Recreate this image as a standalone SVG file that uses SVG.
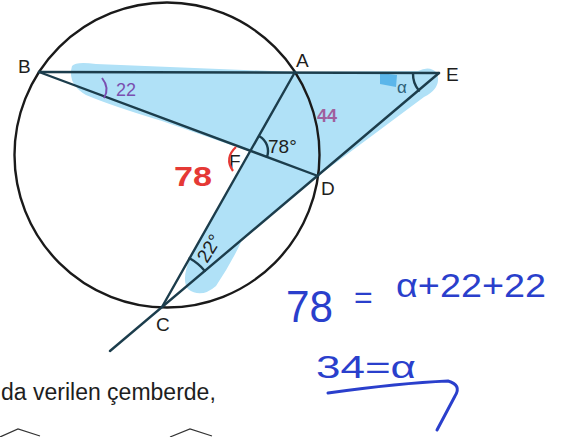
<svg xmlns="http://www.w3.org/2000/svg" width="565" height="437" viewBox="0 0 565 437">
<style>
.ln{stroke:#1c3d4c;stroke-width:2.4;fill:none;stroke-linecap:round}
.lbl{font-family:"Liberation Sans",Arial,sans-serif;font-size:19px;fill:#1e1e1e}
.hw{font-family:"Liberation Sans",Arial,sans-serif}
.blue{fill:#2a3fcc}
</style>
<rect width="565" height="437" fill="#ffffff"/>
<g id="shading">
<path d="M72,66 Q76,61 96,64 L295,72 L418,71 Q430,65 437,73 Q442,88 424,97 L318,176 L242,240 Q232,262 216,286 Q201,299 188,289 Q181,280 190,258 L251,152 L162,121 Q112,106 86,95 Q67,84 72,66 Z" fill="#b0e1f7"/>
<path d="M380,73 L397,75 L396,87 L380,84 Z" fill="#5bb6ea"/>
</g>
<g id="circle">
<circle cx="167" cy="155" r="152.5" fill="none" stroke="#1a1a1a" stroke-width="2.4"/>
</g>
<g id="connectors">
<line class="ln" x1="39" y1="72" x2="439" y2="73"/>
<line class="ln" x1="39" y1="72" x2="318" y2="176"/>
<line class="ln" x1="295" y1="72" x2="162" y2="307"/>
<line class="ln" x1="439" y1="73" x2="110" y2="351"/>
<path class="ln" d="M259.3,136.2 A17,17 0 0 1 267,156.8" stroke-width="2"/>
<path class="ln" d="M189.6,258.3 A56,56 0 0 1 204.8,270.9" stroke-width="2"/>
<path class="ln" d="M413,73.5 A26,26 0 0 0 419,90.7" stroke-width="2"/>
</g>
<g id="labels">
<text class="lbl" x="18" y="73" font-size="20">B</text>
<text class="lbl" x="296" y="67">A</text>
<text class="lbl" x="446" y="81">E</text>
<text class="lbl" x="321" y="195">D</text>
<text class="lbl" x="156" y="331">C</text>
<text class="lbl" x="229" y="168">F</text>
<text class="lbl" x="268" y="153" fill="#1c3d4c">78°</text>
<text class="lbl" transform="translate(207,264) rotate(-58)" font-size="18" fill="#1c3d4c">22°</text>
<text class="hw" x="397" y="93" font-size="17" fill="#2d5f78">α</text>
</g>
<g id="annotations">
<path d="M102,78 Q110,88 104,98" stroke="#7a4fb0" stroke-width="2" fill="none"/>
<text class="hw" x="116" y="96" font-size="18" fill="#7a4fb0">22</text>
<text class="hw" x="317" y="122" font-size="18" fill="#a0609e" font-weight="bold">44</text>
<path d="M236,147 Q224,158 233,171" stroke="#e53935" stroke-width="2.2" fill="none"/>
<text class="hw" x="174" y="186" font-size="28" fill="#e53935" font-weight="bold" textLength="38" lengthAdjust="spacingAndGlyphs">78</text>
<text class="hw blue" x="286" y="322" font-size="44" textLength="47" lengthAdjust="spacingAndGlyphs">78</text>
<text class="hw blue" x="354" y="308" font-size="32">=</text>
<text class="hw blue" x="396" y="297" font-size="33" textLength="150" lengthAdjust="spacingAndGlyphs">α+22+22</text>
<text class="hw blue" x="316" y="378" font-size="32" textLength="100" lengthAdjust="spacingAndGlyphs">34=α</text>
<path d="M328,393 Q400,383 448,381 Q462,385 455,396 L437,430" stroke="#2a3fcc" stroke-width="3" fill="none" stroke-linecap="round"/>
</g>
<g id="caption">
<text class="hw" x="1" y="400" font-size="23" fill="#1e1e1e">da verilen çemberde,</text>
<polyline points="0,437 18,429 40,436" fill="none" stroke="#333" stroke-width="1.2"/>
<polyline points="170,437 190,429 212,436" fill="none" stroke="#333" stroke-width="1.2"/>
</g>
</svg>
